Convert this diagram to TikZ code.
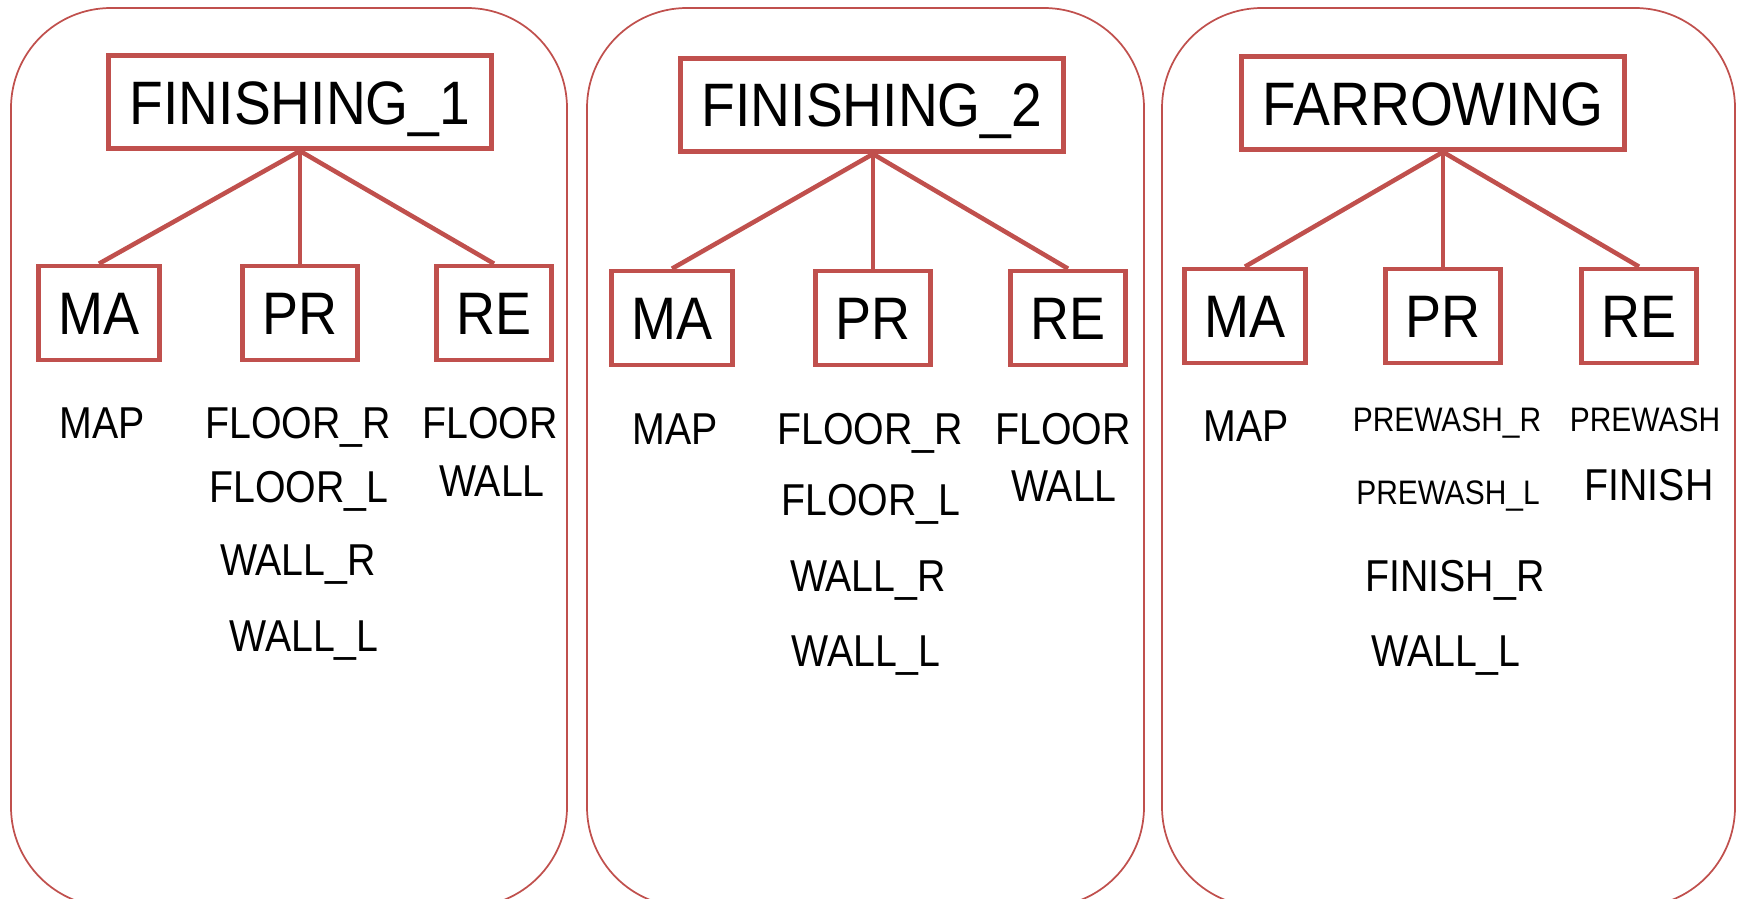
\documentclass[tikz,border=0pt]{standalone}
\usepackage{fontspec}
\setmainfont{Liberation Sans}
\newfontfamily\boxfont[FakeStretch=0.9]{Liberation Sans}
\newfontfamily\listfont[FakeStretch=0.88]{Liberation Sans}
\definecolor{boxred}{HTML}{C0504D}

\begin{document}
\begin{tikzpicture}
	[ x=0.75pt, y=-0.75pt,
	  pen/.style={boxred,line width=1.3pt,rounded corners=75pt},
	  house/.style={draw=boxred,line width=3.5pt,font=\boxfont\fontsize{46}{46}\selectfont,text height=33pt,text depth=0pt,inner xsep=16pt,inner ysep=0pt,minimum height=70pt},
	  part/.style={house,font=\boxfont\fontsize{45}{45}\selectfont,text height=32.5pt,inner xsep=15pt,minimum height=70.5pt},
	  link/.style={boxred,line width=3.4pt},
	  item/.style={font=\listfont\fontsize{33.5}{33.5}\selectfont,text height=24pt,text depth=0pt,inner sep=0pt},
	  small/.style={item,font=\listfont\fontsize{25.5}{25.5}\selectfont,text height=18.2pt} ]

	\useasboundingbox (0,0) rectangle (1741,899);

	\draw[pen] (11,8) rectangle (567,907);
	\draw[pen] (587,8) rectangle (1144,907);
	\draw[pen] (1162,8) rectangle (1735,907);

	\node[house] (fin1) at (300,102) {FINISHING\_1};
	\node[house] (fin2) at (872,105) {FINISHING\_2};
	\node[house] (farr) at (1433,103) {FARROWING};

	\node[part] (ma1) at (99,313) {MA};
	\node[part] (pr1) at (300,313) {PR};
	\node[part] (re1) at (494,313) {RE};
	\node[part] (ma2) at (672,318) {MA};
	\node[part] (pr2) at (873,318) {PR};
	\node[part] (re2) at (1068,318) {RE};
	\node[part] (ma3) at (1245,316) {MA};
	\node[part] (pr3) at (1443,316) {PR};
	\node[part] (re3) at (1639,316) {RE};

	\coordinate (top1) at (pr1.north |- fin1.south);
	\coordinate (top2) at (pr2.north |- fin2.south);
	\coordinate (top3) at (pr3.north |- farr.south);

	\draw[link] (top1) -- (ma1.north);
	\draw[link] (top1) -- (pr1.north);
	\draw[link] (top1) -- (re1.north);
	\draw[link] (top2) -- (ma2.north);
	\draw[link] (top2) -- (pr2.north);
	\draw[link] (top2) -- (re2.north);
	\draw[link] (top3) -- (ma3.north);
	\draw[link] (top3) -- (pr3.north);
	\draw[link] (top3) -- (re3.north);

	\node[item] (map1) at (102,422) {MAP};
	\node[item] (flr1) at (298,422) {FLOOR\_R};
	\node[item] (fll1) at (299,486) {FLOOR\_L};
	\node[item] (wlr1) at (298,559) {WALL\_R};
	\node[item] (wll1) at (304,635) {WALL\_L};
	\node[item] (flo1) at (490,422) {FLOOR};
	\node[item] (wal1) at (492,480) {WALL};

	\node[item] (map2) at (675,428) {MAP};
	\node[item] (flr2) at (870,428) {FLOOR\_R};
	\node[item] (fll2) at (871,499) {FLOOR\_L};
	\node[item] (wlr2) at (868,575) {WALL\_R};
	\node[item] (wll2) at (866,650) {WALL\_L};
	\node[item] (flo2) at (1063,428) {FLOOR};
	\node[item] (wal2) at (1064,485) {WALL};

	\node[item] (map3) at (1246,425) {MAP};
	\node[small] (pwr3) at (1447,419) {PREWASH\_R};
	\node[small] (pwl3) at (1448,492) {PREWASH\_L};
	\node[item] (fnr3) at (1455,575) {FINISH\_R};
	\node[item] (wll3) at (1446,650) {WALL\_L};
	\node[small] (pwa3) at (1645,419) {PREWASH};
	\node[item] (fin3) at (1649,484) {FINISH};

\end{tikzpicture}
\end{document}
